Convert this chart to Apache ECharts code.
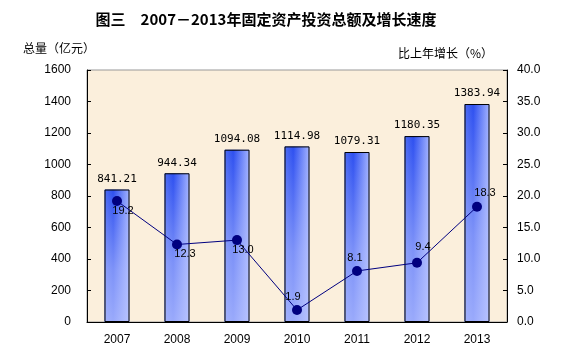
<!DOCTYPE html>
<html><head><meta charset="utf-8">
<script src="https://cdn.jsdelivr.net/npm/echarts@6/dist/echarts.min.js"></script>
<style>html,body{margin:0;padding:0;background:#fff}#c{width:582px;height:362px}</style>
</head><body><div id="c"></div>
<script>
const years = ['2007','2008','2009','2010','2011','2012','2013'];
const totals = [841.21, 944.34, 1094.08, 1114.98, 1079.31, 1180.35, 1383.94];
const growth = [19.2, 12.3, 13.0, 1.9, 8.1, 9.4, 18.3];
const growthLabelPos = ['bottom','bottom','bottom','top','top','top','top'];
const growthLabelOff = [[6,-6],[8,-6],[6,-6],[-4,2],[-2,2],[6,0],[8,2]];

const chart = echarts.init(document.getElementById('c'));
chart.setOption({
  animation: false,
  backgroundColor: '#fff',
  title: {
    text: '图三　2007－2013年固定资产投资总额及增长速度',
    left: 261, top: 7, textAlign: 'center',
    textStyle: {fontSize: 15, fontWeight: 'bold', color: '#000', fontFamily: 'Noto Sans CJK SC'}
  },
  grid: {left: 87, right: 75, top: 70, bottom: 40, show: true,
    backgroundColor: '#fbefdc', borderColor: '#999', borderWidth: 1},
  xAxis: {
    type: 'category', data: years,
    axisLine: {lineStyle: {color: '#000', width: 1}},
    axisTick: {inside: true, length: 4, lineStyle: {color: '#000'}},
    axisLabel: {color: '#000', fontSize: 12, margin: 12, fontFamily: 'Liberation Sans'}
  },
  yAxis: [{
    type: 'value', min: 0, max: 1600, interval: 200,
    name: '总量（亿元）', nameLocation: 'end', nameGap: 16,
    nameTextStyle: {color: '#000', fontSize: 12, fontFamily: 'Noto Sans CJK SC', align: 'right', padding: [0, -8, 0, 0]},
    axisLine: {show: true, lineStyle: {color: '#000'}},
    axisTick: {show: true, inside: true, length: 4, lineStyle: {color: '#000'}},
    splitLine: {show: false},
    axisLabel: {color: '#000', fontSize: 12, margin: 16, fontFamily: 'Liberation Sans',
      formatter: v => String(v)}
  }, {
    type: 'value', min: 0, max: 40, interval: 5,
    name: '比上年增长（%）', nameLocation: 'end', nameGap: 11,
    nameTextStyle: {color: '#000', fontSize: 12, fontFamily: 'Noto Sans CJK SC', align: 'right', padding: [0, 14, 0, 0]},
    axisLine: {show: true, lineStyle: {color: '#000'}},
    axisTick: {show: true, inside: true, length: 4, lineStyle: {color: '#000'}},
    splitLine: {show: false},
    axisLabel: {color: '#000', fontSize: 12, margin: 10, fontFamily: 'Liberation Sans',
      formatter: v => v.toFixed(1)}
  }],
  series: [{
    type: 'bar', data: totals, barWidth: 25, yAxisIndex: 0,
    itemStyle: {
      color: new echarts.graphic.LinearGradient(0, 0, 1, 0, [
        {offset: 0, color: '#4d6cf2'},
        {offset: 0.35, color: '#2d4ff0'},
        {offset: 1, color: '#a3b3ff'}
      ])
    }
  }, {
    type: 'bar', data: totals, barWidth: 25, barGap: '-100%', yAxisIndex: 0,
    itemStyle: {
      borderColor: '#000', borderWidth: 1,
      color: new echarts.graphic.LinearGradient(0, 0, 0, 1, [
        {offset: 0, color: 'rgba(190,200,255,0)'},
        {offset: 0.6, color: 'rgba(190,200,255,0.55)'},
        {offset: 1, color: 'rgba(190,200,255,0.75)'}
      ])
    },
    label: {show: true, position: 'top', distance: 5, color: '#000', fontSize: 11,
      fontFamily: 'DejaVu Sans Mono', formatter: p => p.value.toFixed(2)}
  }, {
    type: 'line', data: growth.map((v, i) => ({
      value: v,
      label: {position: growthLabelPos[i], offset: growthLabelOff[i]}
    })), yAxisIndex: 1,
    symbol: 'circle', symbolSize: 10,
    lineStyle: {color: '#000080', width: 1},
    itemStyle: {color: '#000080'},
    label: {show: true, color: '#000', fontSize: 11, fontFamily: 'Liberation Sans',
      formatter: p => p.value.toFixed(1)}
  }]
});
</script></body></html>
